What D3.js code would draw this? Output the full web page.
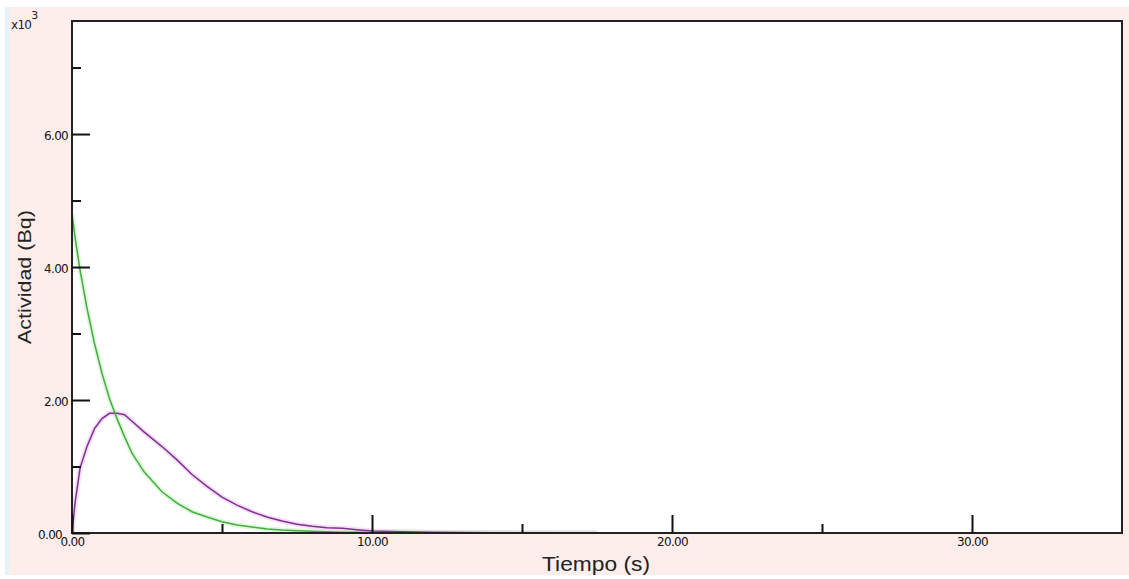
<!DOCTYPE html>
<html>
<head>
<meta charset="utf-8">
<script src="https://cdn.jsdelivr.net/npm/d3@7"></script>
<style>
  html, body { margin: 0; padding: 0; background: #ffffff; }
  svg { display: block; }
  .tick text { font-family: "DejaVu Sans", sans-serif; font-size: 12px; fill: #111; letter-spacing: -0.7px; }
  .domain { display: none; }
</style>
</head>
<body>
<svg id="chart" width="1129" height="579"></svg>
<script>
// ---- data ----
const times = [0, 0.1, 0.27, 0.5, 0.75, 1.0, 1.25, 1.5, 1.75, 2.0, 2.4, 3.0, 3.5, 4.0, 4.5, 5.0, 5.5, 6.0, 6.5, 7.0, 7.5, 8.0, 8.5, 9.0, 9.5, 10.0, 11.0, 12.0, 14.0, 17.5];
const parentActivity = [4800, 4450, 3950, 3380, 2850, 2400, 2020, 1720, 1450, 1200, 920, 620, 450, 320, 240, 170, 120, 90, 60, 45, 35, 25, 18, 13, 10, 8, 5, 3, 1, 0];
const daughterActivity = [0, 450, 980, 1300, 1570, 1720, 1800, 1800, 1780, 1680, 1520, 1300, 1100, 880, 700, 540, 420, 320, 240, 180, 130, 100, 80, 70, 50, 30, 20, 10, 5, 0];
const xMajorTicks = [0, 10, 20, 30];
const xMinorTicks = [5, 15, 25];
const yMajorTicks = [0, 2000, 4000, 6000];
const yMinorTicks = [1000, 3000, 5000, 7000];
const xTitle = "Tiempo (s)";
const yTitle = "Actividad (Bq)";
const yMultiplier = "x10";

const svg = d3.select("#chart");
const L = 72, R = 1122, T = 21, B = 533;

// background
svg.append("rect").attr("x", 6).attr("y", 7).attr("width", 1123).attr("height", 568).attr("fill", "#fdeeec");
svg.append("rect").attr("x", 5).attr("y", 7).attr("width", 4).attr("height", 568).attr("fill", "#e4f3fb");
svg.append("rect").attr("x", L).attr("y", T).attr("width", R - L).attr("height", B - T).attr("fill", "#ffffff");

const x = d3.scaleLinear().domain([0, 35]).range([L, R]);
const y = d3.scaleLinear().domain([0, 7700]).range([B, T]);

svg.append("defs").append("clipPath").attr("id", "clip")
  .append("rect").attr("x", L).attr("y", T - 2).attr("width", R - L).attr("height", B - T + 2);

const line = (vals) => d3.line().x((d, i) => x(times[i])).y(d => y(d))(vals);

const g = svg.append("g").attr("clip-path", "url(#clip)");
// soft halos (jpeg bleed)
g.append("path").attr("d", line(daughterActivity)).attr("fill", "none").attr("stroke", "#eebcf2").attr("stroke-width", 5).attr("opacity", 0.5);
g.append("path").attr("d", line(parentActivity)).attr("fill", "none").attr("stroke", "#c2efc2").attr("stroke-width", 5).attr("opacity", 0.5);
g.append("path").attr("d", line(daughterActivity)).attr("fill", "none").attr("stroke", "#7d3290").attr("stroke-width", 1.5);
g.append("path").attr("d", line(parentActivity)).attr("fill", "none").attr("stroke", "#44ad3c").attr("stroke-width", 1.5);

// frame
svg.append("rect").attr("x", L).attr("y", T).attr("width", R - L).attr("height", B - T)
  .attr("fill", "none").attr("stroke", "#222").attr("stroke-width", 2);

// y axis
const yAxisMajor = d3.axisLeft(y).tickValues(yMajorTicks).tickSize(-18).tickPadding(4)
  .tickFormat(d => (d / 1000).toFixed(2));
const yA = svg.append("g").attr("transform", `translate(${L},0)`).call(yAxisMajor);
yA.selectAll(".tick line").attr("stroke", "#111").attr("stroke-width", 2);
yA.selectAll(".tick text").attr("dy", "0.45em").filter(d => d === 0).attr("dx", -6);
const yAxisMinor = d3.axisLeft(y).tickValues(yMinorTicks).tickSize(-9).tickFormat("");
const yM = svg.append("g").attr("transform", `translate(${L},0)`).call(yAxisMinor);
yM.selectAll(".tick line").attr("stroke", "#111").attr("stroke-width", 2);

// x axis
const xAxisMajor = d3.axisBottom(x).tickValues(xMajorTicks).tickSize(-18).tickPadding(4)
  .tickFormat(d => d.toFixed(2));
const xA = svg.append("g").attr("transform", `translate(0,${B})`).call(xAxisMajor);
xA.selectAll(".tick line").attr("stroke", "#111").attr("stroke-width", 2);
const xAxisMinor = d3.axisBottom(x).tickValues(xMinorTicks).tickSize(-9).tickFormat("");
const xM = svg.append("g").attr("transform", `translate(0,${B})`).call(xAxisMinor);
xM.selectAll(".tick line").attr("stroke", "#111").attr("stroke-width", 2);

// multiplier
const mt = svg.append("text").attr("x", 11).attr("y", 29)
  .attr("font-family", "DejaVu Sans, sans-serif").attr("font-size", 12).attr("fill", "#222")
  .attr("letter-spacing", "-0.7px");
mt.append("tspan").text(yMultiplier);
mt.append("tspan").attr("dy", -10).attr("font-size", 11).text("3");

// titles
svg.append("text").attr("x", 596).attr("y", 571).attr("text-anchor", "middle")
  .attr("font-family", "Liberation Sans, Arial, sans-serif").attr("font-size", 20).attr("fill", "#222")
  .attr("textLength", 108).attr("lengthAdjust", "spacingAndGlyphs")
  .text(xTitle);
svg.append("text").attr("transform", "translate(31,277) rotate(-90)").attr("text-anchor", "middle")
  .attr("font-family", "Liberation Sans, Arial, sans-serif").attr("font-size", 19).attr("fill", "#222")
  .attr("textLength", 134).attr("lengthAdjust", "spacingAndGlyphs")
  .text(yTitle);
</script>
</body>
</html>
